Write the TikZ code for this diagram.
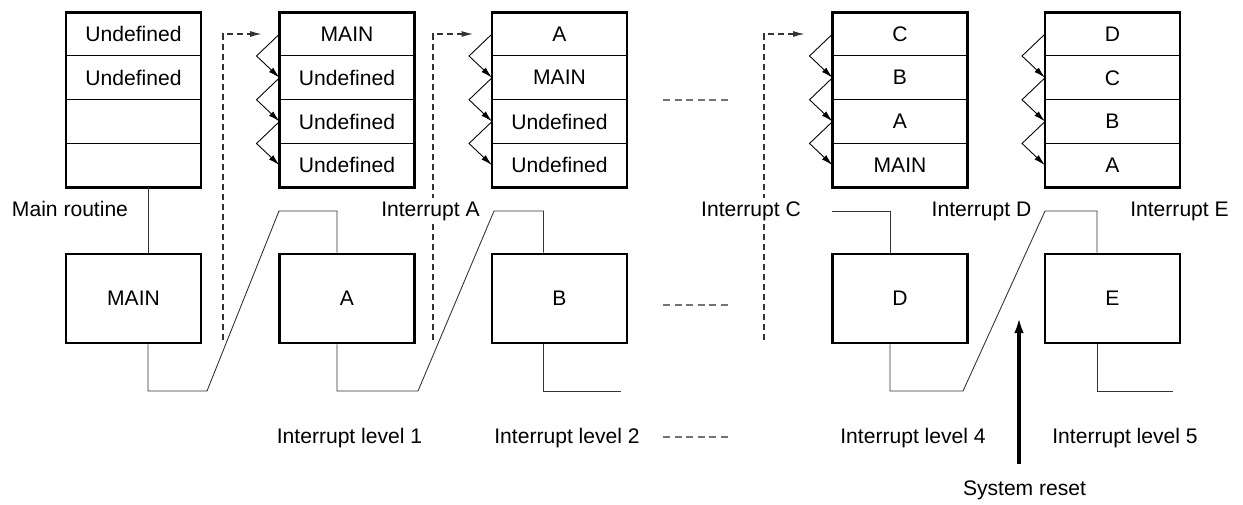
\documentclass[tikz,border=0pt]{standalone}
\usepackage{fontspec}
\setsansfont{Liberation Sans}
\usetikzlibrary{arrows.meta,positioning}

\begin{document}
\begin{tikzpicture}[x=0.02cm, y=-0.02cm, node distance=0pt,
  every node/.style={font=\sffamily\fontsize{12}{14}\selectfont},
  cell/.style={draw, line width=0.6pt, minimum width=2.7cm, minimum height=0.875cm, inner sep=0pt, outer sep=0pt},
  routine/.style={draw, line width=1.6pt, minimum width=2.7cm, minimum height=1.78cm, inner sep=0pt},
  frame/.style={line width=1.6pt},
  wire/.style={line width=0.5pt, color=black!80},
  zig/.style={line width=0.5pt, -{Latex[length=6.5pt,width=3.4pt]}},
  jump/.style={line width=0.6pt, color=black!80, dash pattern=on 3.4pt off 2.3pt, -{Latex[length=6.5pt,width=3.4pt]}},
  etc/.style={line width=0.6pt, color=black!55, dash pattern=on 4pt off 2.6pt},
  tag/.style={anchor=base, inner sep=2pt},
  reset/.style={line width=1.8pt, -{Latex[length=9pt,width=5.5pt]}}]
  \useasboundingbox (0,0) rectangle (1243,504);

  % stacks
  \node[cell] (s0a) at (133.5,34) {Undefined};
  \node[cell, below=of s0a] (s0b) {Undefined};
  \node[cell, below=of s0b] (s0c) {};
  \node[cell, below=of s0c] (s0d) {};
  \draw[frame] (s0a.north west) rectangle (s0d.south east);

  \node[cell] (s1a) at (347,34) {MAIN};
  \node[cell, below=of s1a] (s1b) {Undefined};
  \node[cell, below=of s1b] (s1c) {Undefined};
  \node[cell, below=of s1c] (s1d) {Undefined};
  \draw[frame] (s1a.north west) rectangle (s1d.south east);

  \node[cell] (s2a) at (559.5,34) {A};
  \node[cell, below=of s2a] (s2b) {MAIN};
  \node[cell, below=of s2b] (s2c) {Undefined};
  \node[cell, below=of s2c] (s2d) {Undefined};
  \draw[frame] (s2a.north west) rectangle (s2d.south east);

  \node[cell] (s3a) at (900,34) {C};
  \node[cell, below=of s3a] (s3b) {B};
  \node[cell, below=of s3b] (s3c) {A};
  \node[cell, below=of s3c] (s3d) {MAIN};
  \draw[frame] (s3a.north west) rectangle (s3d.south east);

  \node[cell] (s4a) at (1112.5,34) {D};
  \node[cell, below=of s4a] (s4b) {C};
  \node[cell, below=of s4b] (s4c) {B};
  \node[cell, below=of s4c] (s4d) {A};
  \draw[frame] (s4a.north west) rectangle (s4d.south east);

  % push arrows
  \draw[zig] (s1a.west) -- ++(-23,22) -- (s1b.west);
  \draw[zig] (s1b.west) -- ++(-23,22) -- (s1c.west);
  \draw[zig] (s1c.west) -- ++(-23,22) -- (s1d.west);
  \draw[zig] (s2a.west) -- ++(-23,22) -- (s2b.west);
  \draw[zig] (s2b.west) -- ++(-23,22) -- (s2c.west);
  \draw[zig] (s2c.west) -- ++(-23,22) -- (s2d.west);
  \draw[zig] (s3a.west) -- ++(-23,22) -- (s3b.west);
  \draw[zig] (s3b.west) -- ++(-23,22) -- (s3c.west);
  \draw[zig] (s3c.west) -- ++(-23,22) -- (s3d.west);
  \draw[zig] (s4a.west) -- ++(-23,22) -- (s4b.west);
  \draw[zig] (s4b.west) -- ++(-23,22) -- (s4c.west);
  \draw[zig] (s4c.west) -- ++(-23,22) -- (s4d.west);

  % routines
  \node[routine] (bm) at (133.5,298.5) {MAIN};
  \node[routine] (ba) at (347,298.5) {A};
  \node[routine] (bb) at (559.5,298.5) {B};
  \node[routine] (bd) at (900,298.5) {D};
  \node[routine] (be) at (1112.5,298.5) {E};

  % saving the return address
  \coordinate (j1) at (223,340);
  \coordinate (j2) at (433,340);
  \coordinate (j3) at (764,340);
  \draw[jump] (j1) |- ([xshift=-0.36cm]s1a.west);
  \draw[jump] (j2) |- ([xshift=-0.38cm]s2a.west);
  \draw[jump] (j3) |- ([xshift=-0.56cm]s3a.west);

  % flow of control
  \draw[wire] ([xshift=0.29cm]s0d.south) -- ([xshift=0.29cm]bm.north);
  \draw[wire] ([xshift=0.29cm]bm.south) |- (207,391) -- (279,211) -| ([xshift=-0.2cm]ba.north);
  \draw[wire] ([xshift=-0.2cm]ba.south) |- (418,391) -- (494,211) -| ([xshift=-0.32cm]bb.north);
  \coordinate (bend) at (621,391);
  \draw[wire] ([xshift=-0.32cm]bb.south) |- (bend);
  \coordinate (dstart) at (832,211);
  \draw[wire] (dstart) -| ([xshift=-0.2cm]bd.north);
  \draw[wire] ([xshift=-0.2cm]bd.south) |- (963,391) -- (1045,211) -| ([xshift=-0.31cm]be.north);
  \coordinate (eend) at (1173,391);
  \draw[wire] ([xshift=-0.31cm]be.south) |- (eend);

  \draw[etc] (663,100) -- (730,100);
  \draw[etc] (663,305) -- (730,305);
  \draw[etc] (663,437) -- (730,437);

  % labels
  \node[tag] (lmain) at (70,216) {Main routine};
  \node[tag, fill=white] (lia) at (430.5,216) {Interrupt A};
  \node[tag, fill=white] (lic) at (751,216) {Interrupt C};
  \node[tag] (lid) at (981.5,216) {Interrupt D};
  \node[tag] (lie) at (1179.5,216) {Interrupt E};
  \node[tag] (lv1) at (349.5,443) {Interrupt level 1};
  \node[tag] (lv2) at (567,443) {Interrupt level 2};
  \node[tag] (lv4) at (913,443) {Interrupt level 4};
  \node[tag] (lv5) at (1125,443) {Interrupt level 5};
  \node[tag] (rs) at (1024.5,495) {System reset};
  \draw[reset] ([xshift=-0.11cm, yshift=0.24cm]rs.north) -- ++(0,-147);
\end{tikzpicture}
\end{document}
